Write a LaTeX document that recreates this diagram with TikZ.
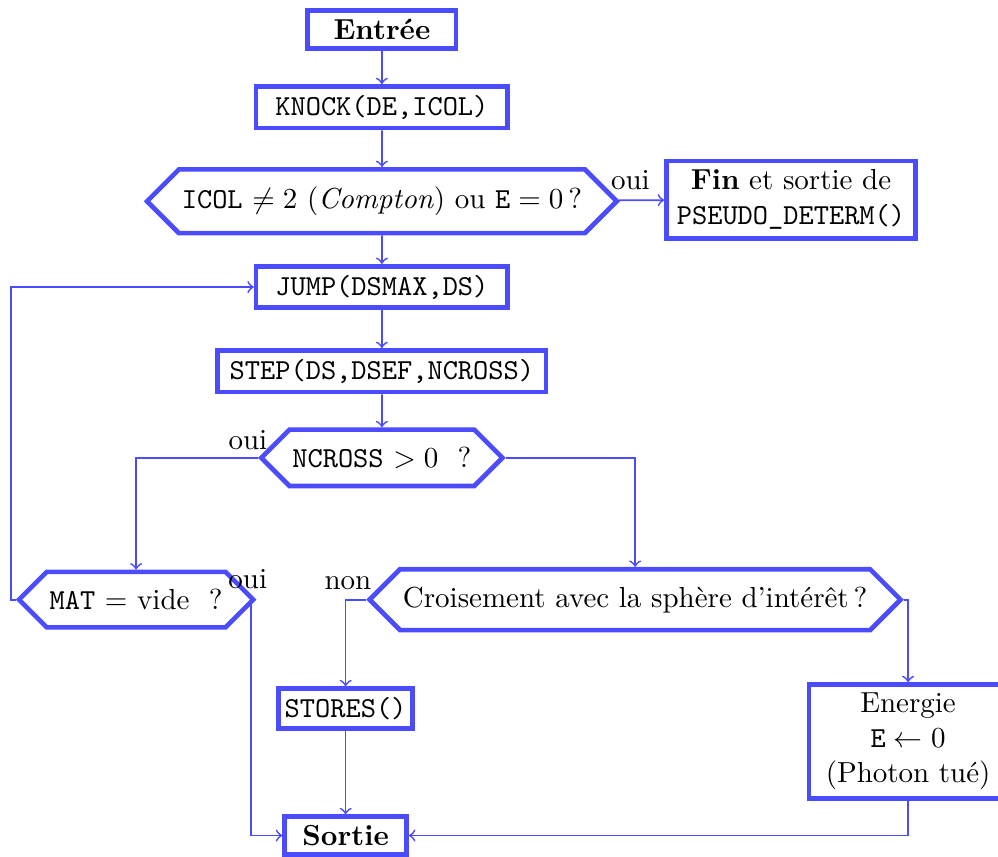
\documentclass[tikz,border=0pt]{standalone}
\usetikzlibrary{quotes,shapes.symbols}

\begin{document}
\begin{tikzpicture}[
	boite/.style={rectangle,draw=blue!70,ultra thick,inner xsep=2pt,inner ysep=3pt,align=center},
	test/.style={signal,signal to=west and east,signal pointer angle=90,draw=blue!70,ultra thick,inner xsep=1pt,inner ysep=6pt},
	fleche/.style={->,draw=blue!70,semithick},
	]
		\useasboundingbox (0,0) rectangle (12.10,-10.38);
		%\node (nom) at(x,y) [style,largeur] {texte} ;
		\node (entree) at(4.63, -0.36) [boite,minimum width=1.80cm] {\textbf{Entrée}} ;
		\node (knock) at(4.63, -1.30) [boite,minimum width=3.05cm] {\texttt{KNOCK(DE,ICOL)}} ;
		\node (icol) at(4.63, -2.44) [test] {\texttt{ICOL} $\neq 2$ (\textit{Compton}) ou $\mathtt{E}=0$\,?} ;
		\node (fin) at(9.59, -2.42) [boite,minimum width=3.02cm] {\textbf{Fin} et sortie de\\ \texttt{PSEUDO\_DETERM()}} ;
		\node (jump) at(4.63, -3.48) [boite,minimum width=3.05cm] {\texttt{JUMP(DSMAX,DS)}} ;
		\node (step) at(4.63, -4.50) [boite,minimum width=3.98cm] {\texttt{STEP(DS,DSEF,NCROSS)}} ;
		\node (ncross) at(4.63, -5.55) [test] {\texttt{NCROSS} $>0$ ~?} ;
		\node (mat) at(1.65, -7.27) [test] {\texttt{MAT} $=$ vide ~?} ;
		\node (crois) at(7.70, -7.27) [test] {Croisement avec la sphère d'intérêt\,?} ;
		\node (stores) at(4.19, -8.59) [boite,minimum width=1.62cm] {\texttt{STORES()}} ;
		\node (energie) at(11.01, -8.99) [boite,minimum width=2.40cm] {Energie\\ $\mathtt{E}\leftarrow 0$\\ (Photon tué)} ;
		\node (sortie) at(4.19, -10.13) [boite,minimum width=1.48cm] {\textbf{Sortie}} ;

		%fleches droites
		\path[fleche]
		(entree) edge[fleche] (knock)
		(knock) edge[fleche] (icol)
		(icol) edge[fleche,"oui" {above,pos=0.25}] (fin)
		(icol) edge[fleche] (jump)
		(jump) edge[fleche] (step)
		(step) edge[fleche] (ncross)
		(stores) edge[fleche] (sortie)
		;

		%fleches coudees
		\draw[fleche] (ncross.west) node[above left,inner sep=1pt,xshift=4.5pt,yshift=1.5pt] {oui} -| (mat.north);
		\draw[fleche] (ncross.east) -| (crois.north);
		\draw[fleche] (mat.west) -- ++(-0.06,0) |- (jump.west);
		\draw[fleche] ([xshift=-2pt]mat.east) node[above,inner sep=1pt,xshift=-1pt,yshift=2.5pt] {oui} |- (sortie.west);
		\draw[fleche] (crois.west) node[above left,inner sep=1pt,xshift=3pt,yshift=2pt] {non} -| (stores.north);
		\draw[fleche] (crois.east) -| (energie.north);
		\draw[fleche] (energie.south) |- (sortie.east);
	\end{tikzpicture}
\end{document}
